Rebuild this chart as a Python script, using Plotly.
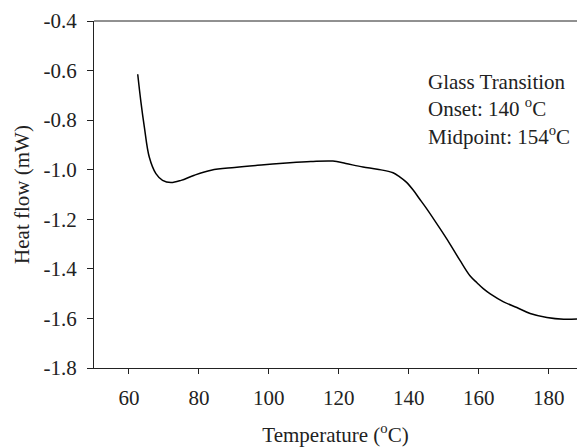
import plotly.graph_objects as go

temperature = [62.5, 63.4, 64.4, 65.8, 67.7, 69.6, 72.0, 74.9, 78.7, 83.5, 90.2, 97.8,
               106.0, 112.0, 118.3, 122.0, 126.9, 131.0, 135.5, 137.4, 139.3, 141.2,
               143.0, 145.1, 148.9, 151.7, 154.6, 157.5, 159.5, 161.3, 163.3, 167.1,
               170.9, 174.7, 179.5, 184.3, 188.1]
heat_flow = [-0.615, -0.725, -0.828, -0.949, -1.016, -1.043, -1.052, -1.043, -1.022,
             -1.002, -0.991, -0.981, -0.972, -0.967, -0.965, -0.975, -0.989, -0.998,
             -1.012, -1.029, -1.050, -1.081, -1.116, -1.157, -1.237, -1.298, -1.365,
             -1.428, -1.456, -1.480, -1.501, -1.533, -1.556, -1.580, -1.596, -1.603,
             -1.602]

x_ticks = [60, 80, 100, 120, 140, 160, 180]
y_ticks = [-1.8, -1.6, -1.4, -1.2, -1.0, -0.8, -0.6, -0.4]
y_tick_labels = ["-1.8", "-1.6", "-1.4", "-1.2", "-1.0", "-0.8", "-0.6", "-0.4"]

note_lines = ["Glass Transition", "Onset: 140 <sup>o</sup>C", "Midpoint: 154<sup>o</sup>C"]

FONT = "Times New Roman, Liberation Serif, serif"
INK = "#222222"

fig = go.Figure()
fig.add_trace(go.Scatter(x=temperature, y=heat_flow, mode="lines",
                         line=dict(color="black", width=1.5, shape="spline", smoothing=1.0),
                         showlegend=False, hoverinfo="skip"))

fig.add_annotation(x=144.8, y=-0.757, xref="x", yref="y", xanchor="left", yanchor="middle",
                   align="left", showarrow=False, text="<br>".join(note_lines),
                   font=dict(family=FONT, size=21, color=INK))

fig.update_layout(
    width=577, height=447,
    margin=dict(l=94, r=0, t=21, b=79),
    paper_bgcolor="white", plot_bgcolor="white",
    font=dict(family=FONT, size=21, color=INK),
    xaxis=dict(range=[50, 188.1], tickvals=x_ticks, ticks="outside", ticklen=5,
               tickcolor=INK, showline=True, linecolor=INK, linewidth=1,
               mirror=False, showgrid=False, zeroline=False,
               tickfont=dict(family=FONT, size=21, color=INK),
               title=dict(text="Temperature (<sup>o</sup>C)", standoff=18,
                          font=dict(family=FONT, size=21, color=INK)),
               ticklabelstandoff=6),
    yaxis=dict(range=[-1.8, -0.4], tickvals=y_ticks, ticktext=y_tick_labels,
               ticks="outside", ticklen=6, tickcolor=INK, showline=True,
               linecolor=INK, linewidth=1, showgrid=False, zeroline=False,
               tickfont=dict(family=FONT, size=21, color=INK),
               title=dict(text="Heat flow (mW)", standoff=8,
                          font=dict(family=FONT, size=21, color=INK)),
               ticklabelstandoff=6),
    shapes=[dict(type="line", xref="paper", yref="paper", x0=0, x1=1, y0=1, y1=1,
                 line=dict(color=INK, width=1))],
)

fig.write_html("out.html", config={"displayModeBar": False},
               post_script="document.body.style.margin='0px';document.body.style.overflow='hidden';")
